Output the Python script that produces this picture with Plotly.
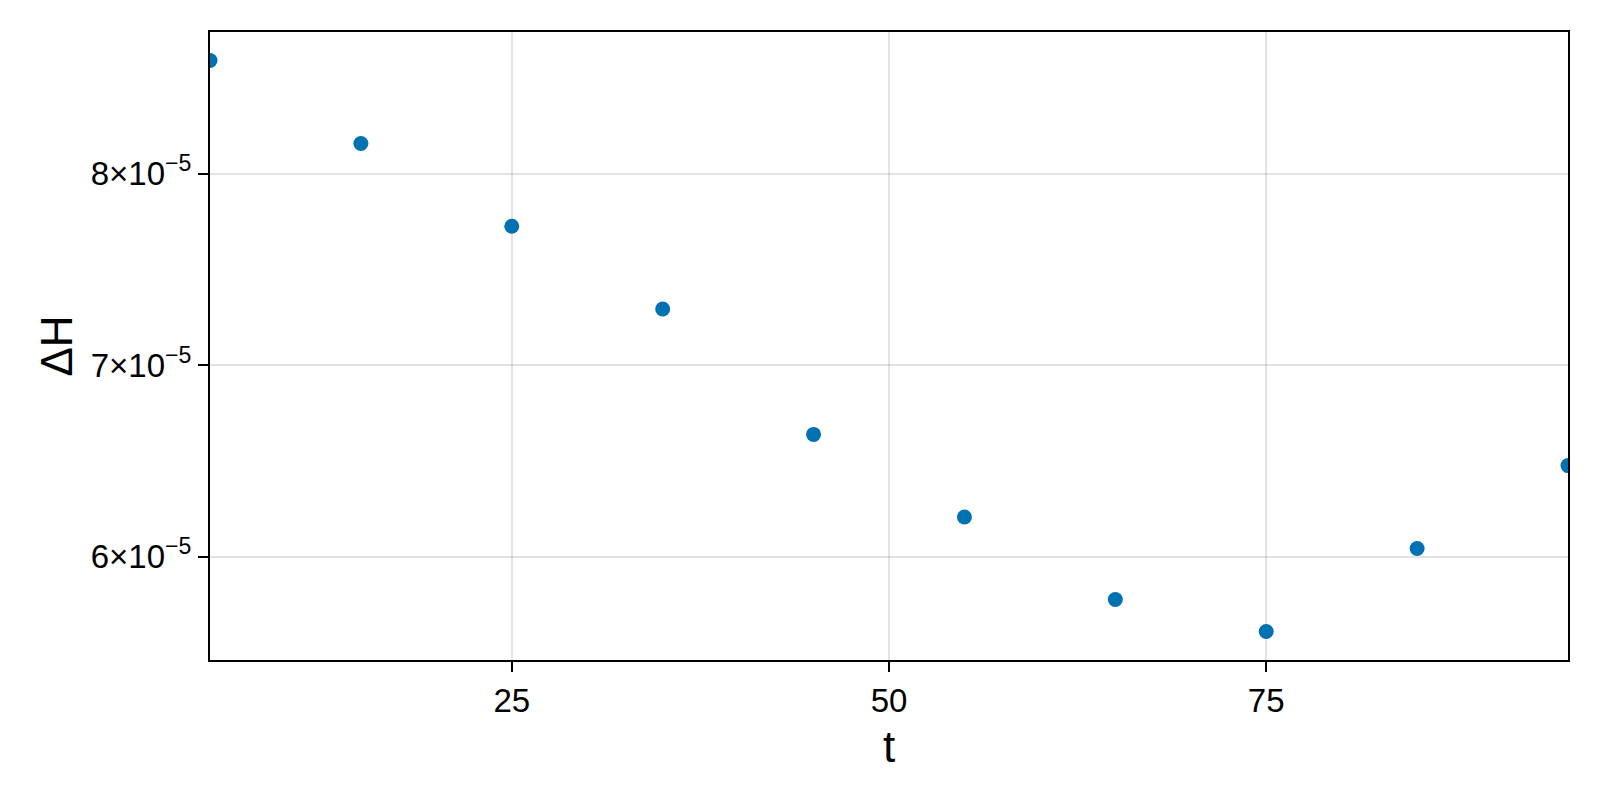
import plotly.graph_objects as go

# data
t = [5, 15, 25, 35, 45, 55, 65, 75, 85, 95]
dH = [8.590e-5, 8.157e-5, 7.725e-5, 7.293e-5, 6.638e-5,
      6.207e-5, 5.776e-5, 5.609e-5, 6.042e-5, 6.475e-5]

x_ticks = [25, 50, 75]
y_ticks = [6e-5, 7e-5, 8e-5]
y_tick_labels = ["6×10<sup>−5</sup>", "7×10<sup>−5</sup>", "8×10<sup>−5</sup>"]

# Makie-like autolimits: 5% padding on y, tight on x
pad = 0.05 * (max(dH) - min(dH))
y_range = [min(dH) - pad, max(dH) + pad]

FONT = "Liberation Sans, Arial, sans-serif"

fig = go.Figure()
fig.add_trace(go.Scatter(
    x=t, y=dH, mode="markers",
    marker=dict(size=15, color="#0072B2", line=dict(width=0)),
    showlegend=False,
))

axis_common = dict(
    showline=True, linecolor="black", linewidth=2, mirror=True,
    ticks="outside", ticklen=10, tickwidth=2, tickcolor="black",
    showgrid=True, gridcolor="rgba(0,0,0,0.11)", gridwidth=2,
    zeroline=False,
    tickfont=dict(family=FONT, size=33, color="black"),
)

fig.update_xaxes(
    range=[min(t), max(t)], tickvals=x_ticks,
    title=dict(text="t", font=dict(family=FONT, size=44, color="black"), standoff=14),
    **axis_common,
)
fig.update_yaxes(
    range=y_range, tickvals=y_ticks, ticktext=y_tick_labels,
    title=dict(text="ΔH", font=dict(family=FONT, size=44, color="black"), standoff=4),
    **axis_common,
)

# page body adds ~8px offset, so margins are shifted to compensate
fig.update_layout(
    width=1600, height=800,
    margin=dict(l=202, r=40, t=24, b=148),
    paper_bgcolor="white", plot_bgcolor="white",
    font=dict(family=FONT, color="black"),
)

fig.write_html("out.html")
